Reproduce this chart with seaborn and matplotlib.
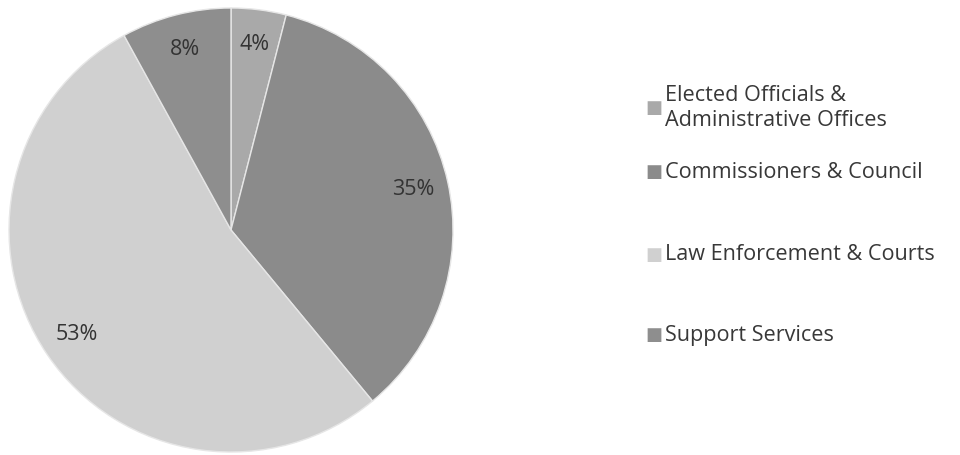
import matplotlib
matplotlib.use("Agg")
import matplotlib.pyplot as plt
import seaborn as sns

sns.set_theme(style="white")
plt.rcParams['font.family'] = ['Open Sans', 'DejaVu Sans']

categories = ["Elected Officials &\nAdministrative Offices", "Commissioners & Council",
              "Law Enforcement & Courts", "Support Services"]
values = [4, 35, 53, 8]
colors = ["#a9a9a9", "#8b8b8b", "#d0d0d0", "#8e8e8e"]

fig = plt.figure(figsize=(9.6, 4.55), dpi=100)
ax = fig.add_axes([9/960, 3/455, 444/960, 444/455])
wedges, texts, autotexts = ax.pie(values, colors=colors, startangle=90, counterclock=False,
                                  autopct=lambda p: f"{round(p):d}%", pctdistance=0.84,
                                  wedgeprops=dict(edgecolor="#e6e6e6", linewidth=1),
                                  textprops=dict(color="#333333", fontsize=15.5))
ax.set_xlim(-1, 1)
ax.set_ylim(-1, 1)
ax.set_aspect("equal")

y_positions = [108, 172, 255, 335]
for w, lab, yp in zip(wedges, categories, y_positions):
    fig.text(645/960, 1 - yp/455, "\u25A0", fontsize=13, color=w.get_facecolor(),
             va="center", ha="left", family="DejaVu Sans")
    fig.text(665/960, 1 - yp/455, lab, fontsize=15.6, color="#383838", va="center",
             ha="left", linespacing=1.25, weight="medium")

fig.savefig("out.png", dpi=100)
